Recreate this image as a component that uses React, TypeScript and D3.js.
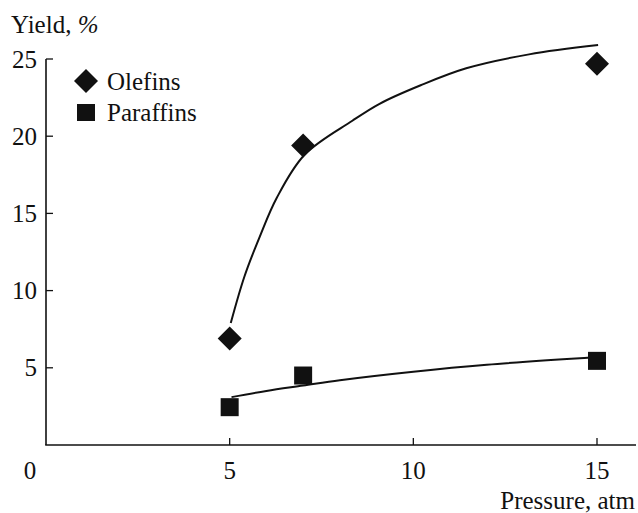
import React, { useEffect, useRef } from 'react';
import * as d3 from 'd3';

const pressures = [5, 7, 15];
const olefins = [6.9, 19.4, 24.7];
const paraffins = [2.45, 4.5, 5.45];

// fitted curves
const olefinCurveX = [5.03, 5.4, 5.82, 6.28, 7.04, 8.34, 9.08, 10.2, 11.44, 13.15, 15.03];
const olefinCurveY = [7.9, 10.9, 13.5, 16.0, 18.8, 21.0, 22.1, 23.3, 24.4, 25.3, 25.9];
const paraffinCurveX = [5.05, 6, 7, 8, 10, 12, 15.03];
const paraffinCurveY = [3.1, 3.5, 3.85, 4.2, 4.75, 5.2, 5.7];

const xTicks = [5, 10, 15];
const yTicks = [5, 10, 15, 20, 25];

const W = 638;
const H = 513;
const FONT = "'Liberation Serif', 'DejaVu Serif', 'Times New Roman', Times, serif";

const App = () => {
  const ref = useRef<SVGSVGElement>(null);

  useEffect(() => {
    const svg = d3.select(ref.current);
    svg.selectAll('*').remove();

    const x = d3.scaleLinear().domain([0, 15]).range([46, 597]);
    const y = d3.scaleLinear().domain([0, 25]).range([445, 59]);

    const g = svg.append('g').style('font-family', FONT).style('font-size', '25px').attr('fill', '#111');

    // axes frame
    g.append('line').attr('x1', x(0)).attr('x2', x(0)).attr('y1', y(25)).attr('y2', y(0))
      .attr('stroke', '#111').attr('stroke-width', 1.6);
    g.append('line').attr('x1', x(0) - 0.8).attr('x2', 636).attr('y1', y(0)).attr('y2', y(0))
      .attr('stroke', '#111').attr('stroke-width', 1.6);

    yTicks.forEach((t) => {
      g.append('line').attr('x1', x(0)).attr('x2', x(0) + 7).attr('y1', y(t)).attr('y2', y(t))
        .attr('stroke', '#111').attr('stroke-width', 1.3);
      g.append('text').attr('x', 37).attr('y', y(t)).attr('dy', '0.34em')
        .attr('text-anchor', 'end').text(t);
    });

    xTicks.forEach((t) => {
      g.append('line').attr('x1', x(t)).attr('x2', x(t)).attr('y1', y(0)).attr('y2', y(0) - 7)
        .attr('stroke', '#111').attr('stroke-width', 1.3);
      g.append('text').attr('x', x(t)).attr('y', 479).attr('text-anchor', 'middle').text(t);
    });
    g.append('text').attr('x', 30).attr('y', 479).attr('text-anchor', 'middle').text('0');

    // axis titles
    const yt = g.append('text').attr('x', 11).attr('y', 33);
    yt.append('tspan').text('Yield, ');
    yt.append('tspan').attr('font-style', 'italic').text('%');
    g.append('text').attr('x', 635).attr('y', 509).attr('text-anchor', 'end').text('Pressure, atm');

    // curves
    const line = d3.line<[number, number]>()
      .x((d) => x(d[0])).y((d) => y(d[1]))
      .curve(d3.curveCatmullRom.alpha(0.5));

    g.append('path')
      .datum(olefinCurveX.map((v, i) => [v, olefinCurveY[i]] as [number, number]))
      .attr('d', line).attr('fill', 'none').attr('stroke', '#111').attr('stroke-width', 2);
    g.append('path')
      .datum(paraffinCurveX.map((v, i) => [v, paraffinCurveY[i]] as [number, number]))
      .attr('d', line).attr('fill', 'none').attr('stroke', '#111').attr('stroke-width', 2);

    // markers
    const diamond = (cx: number, cy: number, r: number) =>
      `M${cx},${cy - r}L${cx + r},${cy}L${cx},${cy + r}L${cx - r},${cy}Z`;

    g.selectAll('.ol').data(pressures).enter().append('path')
      .attr('d', (d, i) => diamond(x(d), y(olefins[i]), 12)).attr('fill', '#111');
    g.selectAll('.pa').data(pressures).enter().append('rect')
      .attr('x', (d) => x(d) - 9).attr('y', (d, i) => y(paraffins[i]) - 9)
      .attr('width', 18).attr('height', 18).attr('fill', '#111');

    // legend
    g.append('path').attr('d', diamond(86, 81, 12)).attr('fill', '#111');
    g.append('text').attr('x', 107).attr('y', 90).text('Olefins');
    g.append('rect').attr('x', 77).attr('y', 104).attr('width', 18).attr('height', 17).attr('fill', '#111');
    g.append('text').attr('x', 107).attr('y', 121).text('Paraffins');
  }, []);

  return (
    <svg ref={ref} width={W} height={H}
      style={{ position: 'absolute', left: 0, top: 0, background: '#fff' }} />
  );
};

export default App;
